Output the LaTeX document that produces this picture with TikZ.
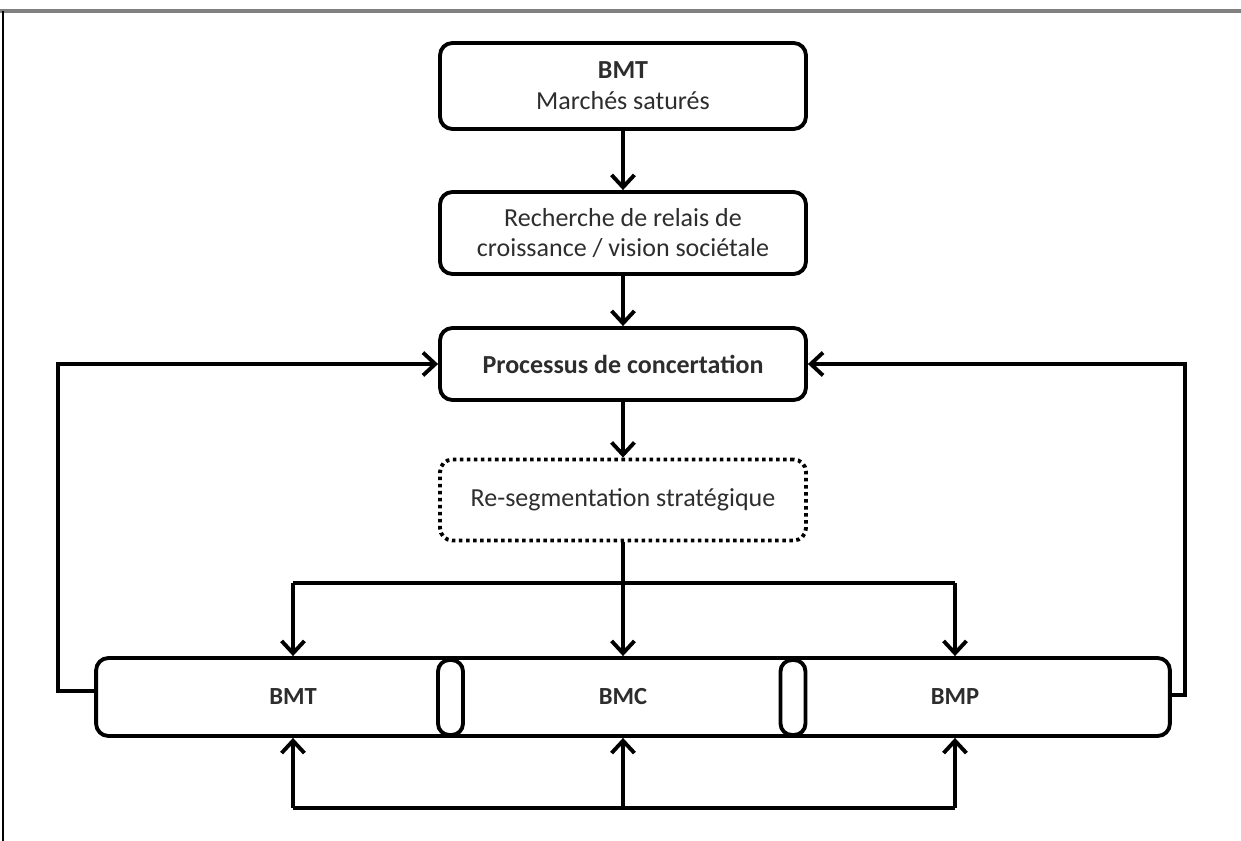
\documentclass[tikz,border=0pt]{standalone}
\usepackage{fontspec}
\setmainfont{Carlito}
\usepackage{xcolor}
\usepackage{tikz}
\usetikzlibrary{arrows.meta, positioning, calc}
\definecolor{textgray}{RGB}{45, 45, 45}

\begin{document}
\begin{tikzpicture}[
    x=0.02cm, y=-0.02cm,
    stage/.style={rectangle, draw=black, line width=2.2pt, rounded corners=7pt,
                  minimum width=7.32cm, align=center, text=textgray,
                  font=\fontsize{14.8}{17.5}\selectfont},
    dotbox/.style={stage, dash pattern=on 2pt off 2pt},
    band/.style={rectangle, draw=black, line width=2.2pt, rounded corners=7pt,
                 minimum width=21.48cm, minimum height=1.56cm},
    pill/.style={rectangle, draw=black, fill=white, line width=2.2pt,
                 rounded corners=6.5pt, minimum width=0.5cm, minimum height=1.5cm},
    lbl/.style={font=\fontsize{14}{16}\selectfont\bfseries, text=textgray},
    arr/.style={-{Straight Barb[length=7pt, width=13pt]}, line width=2.2pt},
    wire/.style={line width=2.2pt}
]
\useasboundingbox (0,0) rectangle (1241,841);

%% Page frame
\draw[gray, line width=2.2pt] (0,11) -- (1241,11);
\draw[line width=1pt] (3,11) -- (3,841);

%% Top chain
\node[stage, minimum height=1.72cm] (marches) at (623,86) {\textbf{BMT}\\Marchés saturés};
\node[stage, minimum height=1.64cm] (relais)  at (623,233) {Recherche de relais de\\croissance / vision sociétale};
\node[stage, minimum height=1.44cm, font=\fontsize{14.8}{17.5}\selectfont\bfseries] (concert) at (623,364) {Processus de concertation};
\node[dotbox, minimum height=1.62cm] (reseg) at (623,500) {Re-segmentation stratégique};

\draw[arr] (marches) -- (relais);
\draw[arr] (relais) -- (concert);
\draw[arr] (concert) -- (reseg);

%% Business model band
\node[band] (bande) at (633,697) {};
\node[pill] (sepA) at (450.5,697.5) {};
\node[pill] (sepB) at (793,697.5) {};
\node[lbl] (bmt) at (293,697) {BMT};
\node[lbl] (bmc) at (623,697) {BMC};
\node[lbl] (bmp) at (955,697) {BMP};

%% Split towards the three models
\coordinate (split) at (623,583);
\draw[arr] (reseg) -- (reseg.south |- bande.north);
\draw[wire] (bmt |- split) -- (bmp |- split);
\draw[arr] (bmt |- split) -- (bmt |- bande.north);
\draw[arr] (bmp |- split) -- (bmp |- bande.north);

%% Common base below
\coordinate (base) at (623,808);
\draw[wire] (bmt |- base) -- (bmp |- base);
\draw[arr] (bmt |- base) -- (bmt |- bande.south);
\draw[arr] (bmc |- base) -- (bmc |- bande.south);
\draw[arr] (bmp |- base) -- (bmp |- bande.south);

%% Feedback loops
\draw[arr] ([yshift=0.12cm]bande.west) -- ++(-36,0) |- (concert.west);
\draw[arr] ([yshift=0.04cm]bande.east) -- ++(13,0) |- (concert.east);

\end{tikzpicture}
\end{document}
